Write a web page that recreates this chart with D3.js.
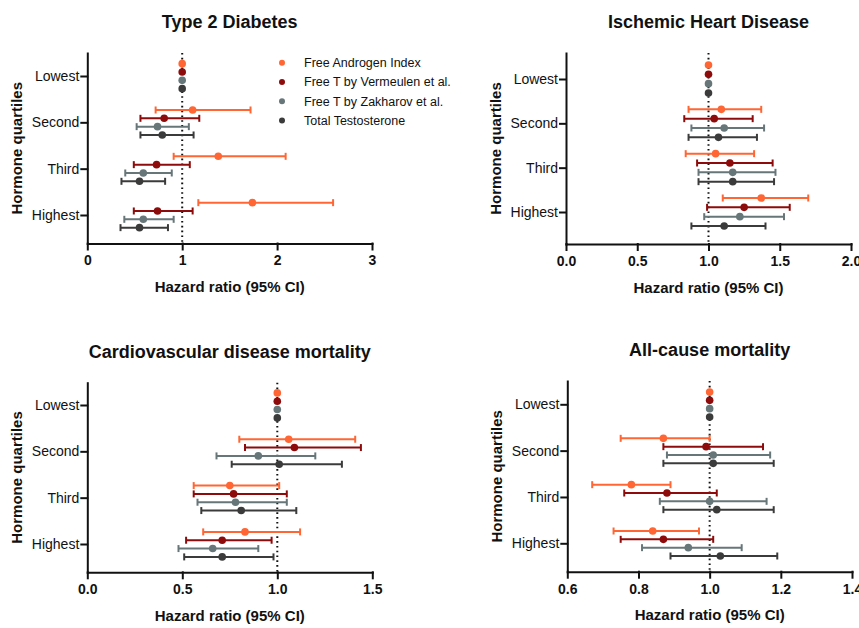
<!DOCTYPE html>
<html>
  <head>
    <title>Hazard ratios by hormone quartile</title>
    <style>
      body { margin: 0; background: #fff; }
      text { font-family: "Liberation Sans", Arial, sans-serif; fill: #111; }
      .domain, .tick line { stroke: #111; stroke-width: 2; stroke-linecap: square; }
    </style>
  </head>
  <body>
    <svg id='chart'></svg>

    <script src="https://d3js.org/d3.v7.min.js" type="text/javascript"></script>
    <script>

const quartiles = ['Lowest', 'Second', 'Third', 'Highest'];
const seriesNames = ['Free Androgen Index', 'Free T by Vermeulen et al.', 'Free T by Zakharov et al.', 'Total Testosterone'];
const colors = ['#ff6633', '#8e0b0b', '#667679', '#3b3b3b'];

// rows = series (FAI, Vermeulen, Zakharov, Total T), columns = quartiles
const t2dEst  = [[1, 1.11, 1.38, 1.74], [1, 0.81, 0.73, 0.74], [1, 0.74, 0.59, 0.59], [1, 0.79, 0.55, 0.55]];
const t2dLow  = [[1, 0.72, 0.91, 1.17], [1, 0.56, 0.49, 0.49], [1, 0.52, 0.40, 0.39], [1, 0.56, 0.36, 0.35]];
const t2dHigh = [[1, 1.72, 2.09, 2.59], [1, 1.18, 1.08, 1.11], [1, 1.07, 0.89, 0.91], [1, 1.12, 0.82, 0.85]];

const ihdEst  = [[1, 1.09, 1.05, 1.37], [1, 1.04, 1.15, 1.25], [1, 1.11, 1.17, 1.22], [1, 1.07, 1.17, 1.11]];
const ihdLow  = [[1, 0.86, 0.84, 1.10], [1, 0.83, 0.92, 0.99], [1, 0.88, 0.93, 0.97], [1, 0.86, 0.93, 0.88]];
const ihdHigh = [[1, 1.37, 1.32, 1.70], [1, 1.31, 1.45, 1.57], [1, 1.39, 1.47, 1.53], [1, 1.34, 1.46, 1.40]];

const cvdEst  = [[1, 1.06, 0.75, 0.83], [1, 1.09, 0.77, 0.71], [1, 0.90, 0.78, 0.66], [1, 1.01, 0.81, 0.71]];
const cvdLow  = [[1, 0.80, 0.56, 0.61], [1, 0.83, 0.56, 0.52], [1, 0.68, 0.58, 0.48], [1, 0.76, 0.60, 0.51]];
const cvdHigh = [[1, 1.41, 1.01, 1.12], [1, 1.44, 1.05, 0.97], [1, 1.20, 1.05, 0.90], [1, 1.34, 1.10, 0.98]];

const allEst  = [[1, 0.87, 0.78, 0.84], [1, 0.99, 0.88, 0.87], [1, 1.01, 1.00, 0.94], [1, 1.01, 1.02, 1.03]];
const allLow  = [[1, 0.75, 0.67, 0.73], [1, 0.87, 0.76, 0.75], [1, 0.88, 0.86, 0.81], [1, 0.87, 0.87, 0.89]];
const allHigh = [[1, 1.00, 0.89, 0.97], [1, 1.15, 1.02, 1.01], [1, 1.17, 1.16, 1.09], [1, 1.18, 1.18, 1.19]];

const t2dTicks = [0, 1, 2, 3];
const ihdTicks = [0, 0.5, 1, 1.5, 2];
const cvdTicks = [0, 0.5, 1, 1.5];
const allTicks = [0.6, 0.8, 1, 1.2, 1.4];

const W = 859, H = 628;
const svg = d3.select('#chart').attr('width', W).attr('height', H);

const panels = [
  {title: 'Type 2 Diabetes', est: t2dEst, low: t2dLow, high: t2dHigh, ticks: t2dTicks, fmt: d3.format('d'),
   left: 87.3, right: 372, top: 53, bottom: 243.5, t0: 76, t3: 215, spread: 8.33, shift: 0.15, legend: true},
  {title: 'Ischemic Heart Disease', est: ihdEst, low: ihdLow, high: ihdHigh, ticks: ihdTicks, fmt: d3.format('.1f'),
   left: 566, right: 851, top: 53, bottom: 244, t0: 79, t3: 212, spread: 9.33, shift: 0},
  {title: 'Cardiovascular disease mortality', est: cvdEst, low: cvdLow, high: cvdHigh, ticks: cvdTicks, fmt: d3.format('.1f'),
   left: 87.3, right: 372.3, top: 382.7, bottom: 572.3, t0: 405, t3: 544, spread: 8.33, shift: 0.4},
  {title: 'All-cause mortality', est: allEst, low: allLow, high: allHigh, ticks: allTicks, fmt: d3.format('.1f'),
   left: 567.3, right: 852, top: 381, bottom: 571.7, t0: 404.3, t3: 543.3, spread: 8.33, shift: 0.2}
];

panels.forEach(function(p) {
  const g = svg.append('g');

  const x = d3.scaleLinear()
    .domain(d3.extent(p.ticks))
    .range([p.left, p.right]);

  // quartile index -> pixel, stretched so the axis line runs from top to bottom
  const yi = d3.scaleLinear().domain([0, 3]).range([p.t0, p.t3]);
  const y = d3.scaleLinear()
    .domain([yi.invert(p.top), yi.invert(p.bottom)])
    .range([p.top, p.bottom]);

  const off = d3.scaleLinear().domain([0, 3])
    .range([-1.5 * p.spread + p.shift, 1.5 * p.spread + p.shift]);

  // reference line at HR = 1
  g.append('line')
    .attr('x1', x(1)).attr('x2', x(1))
    .attr('y1', p.top).attr('y2', p.bottom)
    .attr('stroke', '#111')
    .attr('stroke-width', 2)
    .attr('stroke-dasharray', '1.6,3.2');

  // x axis
  const xa = g.append('g')
    .attr('transform', `translate(0,${p.bottom})`)
    .call(d3.axisBottom(x).tickValues(p.ticks).tickFormat(p.fmt).tickSize(6).tickSizeOuter(0).tickPadding(6));
  xa.selectAll('text').style('font-size', '14px').style('font-weight', 'bold');

  // y axis
  const ya = g.append('g')
    .attr('transform', `translate(${p.left},0)`)
    .call(d3.axisLeft(y).tickValues([0, 1, 2, 3]).tickFormat(i => quartiles[i]).tickSize(6).tickSizeOuter(0).tickPadding(2));
  ya.selectAll('text').style('font-size', '14px');

  g.append('text')
    .attr('x', (p.left + p.right) / 2)
    .attr('y', p.top - 25)
    .attr('text-anchor', 'middle')
    .style('font-size', '18px')
    .style('font-weight', 'bold')
    .text(p.title);

  g.append('text')
    .attr('x', (p.left + p.right) / 2)
    .attr('y', p.bottom + 48.5)
    .attr('text-anchor', 'middle')
    .style('font-size', '15px')
    .style('font-weight', 'bold')
    .text('Hazard ratio (95% CI)');

  g.append('text')
    .attr('transform', `translate(${p.left - 65},${(p.top + p.bottom) / 2}) rotate(-90)`)
    .attr('text-anchor', 'middle')
    .style('font-size', '15px')
    .style('font-weight', 'bold')
    .text('Hormone quartiles');

  const rows = [];
  p.est.forEach(function(vals, s) {
    vals.forEach(function(v, q) {
      rows.push({s: s, q: q, est: v, low: p.low[s][q], high: p.high[s][q]});
    });
  });
  const bars = rows.filter(d => d.q > 0);
  const cy = d => y(d.q) + off(d.s);

  g.selectAll('.ci')
    .data(bars)
    .enter().append('line')
    .attr('class', 'ci')
    .attr('x1', d => x(d.low)).attr('x2', d => x(d.high))
    .attr('y1', cy).attr('y2', cy)
    .attr('stroke', d => colors[d.s])
    .attr('stroke-width', 2);

  ['low', 'high'].forEach(function(k) {
    g.selectAll('.cap-' + k)
      .data(bars)
      .enter().append('line')
      .attr('class', 'cap-' + k)
      .attr('x1', d => x(d[k])).attr('x2', d => x(d[k]))
      .attr('y1', d => cy(d) - 3.5).attr('y2', d => cy(d) + 3.5)
      .attr('stroke', d => colors[d.s])
      .attr('stroke-width', 2);
  });

  g.selectAll('.pt')
    .data(rows)
    .enter().append('circle')
    .attr('class', 'pt')
    .attr('cx', d => x(d.est))
    .attr('cy', cy)
    .attr('r', 3.8)
    .style('fill', d => colors[d.s]);

  if (p.legend) {
    const lg = g.selectAll('.lg')
      .data(seriesNames)
      .enter().append('g')
      .attr('class', 'lg')
      .attr('transform', (d, i) => `translate(282,${62.7 + i * 19.3})`);
    lg.append('circle').attr('r', 3).style('fill', (d, i) => colors[i]);
    lg.append('text')
      .attr('x', 22)
      .attr('dy', '0.35em')
      .style('font-size', '12.5px')
      .text(d => d);
  }
});
</script>
  </body>
</html>
